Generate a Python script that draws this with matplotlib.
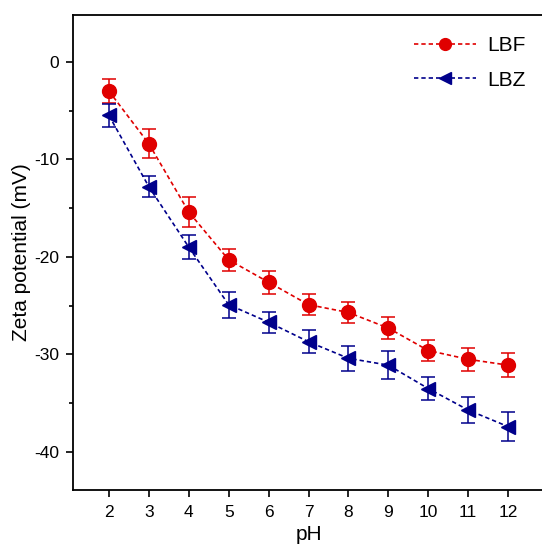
import matplotlib
matplotlib.use("Agg")
import matplotlib.pyplot as plt
from matplotlib.lines import Line2D
from matplotlib.ticker import MultipleLocator

plt.rcParams["font.family"] = ["Liberation Sans", "DejaVu Sans"]
plt.rcParams["axes.unicode_minus"] = False

ph = [2, 3, 4, 5, 6, 7, 8, 9, 10, 11, 12]
lbf = [-3.0, -8.4, -15.4, -20.3, -22.6, -24.9, -25.7, -27.3, -29.6, -30.5, -31.1]
lbf_err = [1.2, 1.5, 1.5, 1.1, 1.2, 1.05, 1.05, 1.1, 1.1, 1.2, 1.25]
lbz = [-5.5, -12.8, -19.0, -24.9, -26.7, -28.7, -30.4, -31.1, -33.5, -35.7, -37.4]
lbz_err = [1.2, 1.05, 1.25, 1.35, 1.1, 1.2, 1.25, 1.4, 1.15, 1.3, 1.5]

red = "#e00000"
blue = "#00008b"
dash = (0, (2.6, 1.8))

fig = plt.figure(figsize=(5.42, 5.46), dpi=100)
# right spine falls just outside the picture, as in the original
ax = fig.add_axes([0.1347, 0.1026, 0.869, 0.8699])

ax.errorbar(ph, lbf, yerr=lbf_err, color=red, ecolor=red, elinewidth=1.1,
            capsize=5, capthick=1.1, linestyle=dash, linewidth=1.2,
            marker="o", markersize=10)
ax.errorbar(ph, lbz, yerr=lbz_err, color=blue, ecolor=blue, elinewidth=1.1,
            capsize=5, capthick=1.1, linestyle=dash, linewidth=1.2,
            marker="<", markersize=10)

ax.set_xlim(1.1, 12.9)
ax.set_ylim(-43.9, 4.8)
ax.set_xticks(ph)
ax.yaxis.set_major_locator(MultipleLocator(10))
ax.yaxis.set_minor_locator(MultipleLocator(5))
ax.tick_params(axis="both", which="major", direction="out", length=5, width=1.2,
               labelsize=12.5, pad=5)
ax.tick_params(axis="x", which="major", pad=6)
ax.tick_params(axis="y", which="minor", direction="out", length=3, width=1.2)
for s in ax.spines.values():
    s.set_linewidth(1.3)

ax.set_xlabel("pH", fontsize=15, labelpad=3.5)
ax.set_ylabel("Zeta potential (mV)", fontsize=15, labelpad=2)

handles = [
    Line2D([], [], color=red, linestyle=dash, linewidth=1.2, marker="o", markersize=8.5),
    Line2D([], [], color=blue, linestyle=dash, linewidth=1.2, marker="<", markersize=8.5),
]
ax.legend(handles, ["LBF", "LBZ"], loc="upper right", frameon=False, fontsize=15,
          handlelength=3.0, handletextpad=0.5, labelspacing=0.75,
          bbox_to_anchor=(1.0, 0.995))

fig.savefig("out.png", dpi=100)
